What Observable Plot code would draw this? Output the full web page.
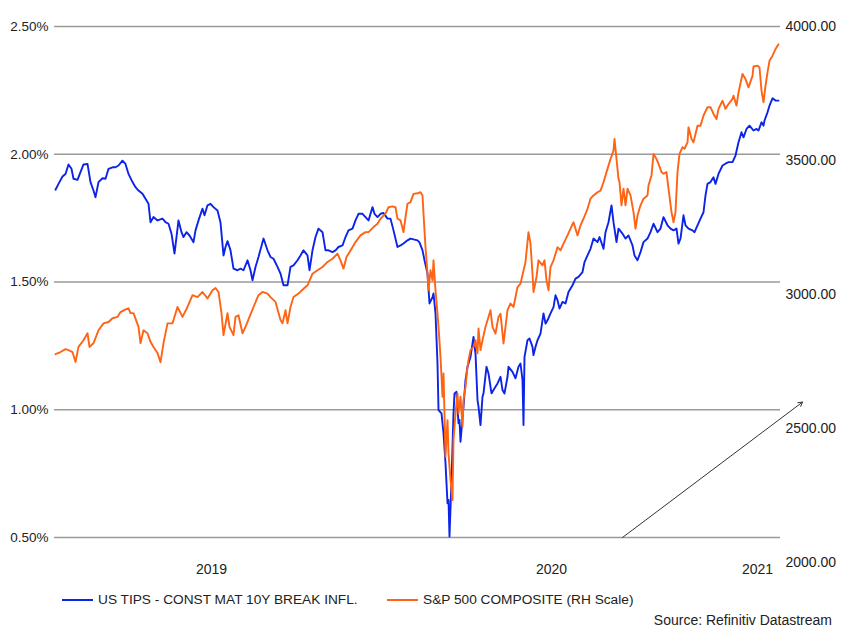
<!DOCTYPE html>
<html>
<head>
<meta charset="utf-8">
<script src="https://cdn.jsdelivr.net/npm/d3@7"></script>
<script src="https://cdn.jsdelivr.net/npm/@observablehq/plot@0.6"></script>
<style>
  body { margin: 0; background: #fff; font-family: "Liberation Sans", Arial, sans-serif; color: #222; }
  #wrap { position: relative; width: 841px; height: 627px; }
  .leg { position: absolute; font-size: 13.7px; line-height: 16px; white-space: nowrap; color: #222; }
  .sw { position: absolute; height: 2px; }
</style>
</head>
<body>
<div id="wrap">
  <div id="chart"></div>
  <div class="sw" style="left:62px;top:599px;width:31px;background:#0b24e8"></div>
  <div class="leg" style="left:98px;top:592px">US TIPS - CONST MAT 10Y BREAK INFL.</div>
  <div class="sw" style="left:387px;top:599px;width:31px;background:#ff6314"></div>
  <div class="leg" style="left:423px;top:592px">S&amp;P 500 COMPOSITE (RH Scale)</div>
  <div class="leg" style="right:9px;top:614px;font-size:14px;line-height:12px">Source: Refinitiv Datastream</div>
</div>
<script>
// ---- data ----
const leftTicks = [0.5, 1.0, 1.5, 2.0, 2.5];          // %
const rightTicks = [2000, 2500, 3000, 3500, 4000];     // S&P 500 points
const yearLabels = ["2019", "2020", "2021"];

const tipsSeries = [
["2019-02-22",1.861],["2019-02-25",1.884],["2019-03-01",1.913],["2019-03-04",1.923],["2019-03-07",1.960],["2019-03-10",1.943],["2019-03-12",1.904],["2019-03-16",1.900],["2019-03-19",1.930],["2019-03-22",1.960],["2019-03-26",1.962],["2019-03-29",1.891],["2019-04-01",1.858],["2019-04-03",1.832],["2019-04-06",1.891],["2019-04-10",1.906],["2019-04-13",1.904],["2019-04-16",1.943],["2019-04-20",1.949],["2019-04-23",1.949],["2019-04-26",1.956],["2019-04-30",1.975],["2019-05-03",1.962],["2019-05-06",1.923],["2019-05-10",1.891],["2019-05-13",1.871],["2019-05-16",1.858],["2019-05-20",1.845],["2019-05-23",1.826],["2019-05-26",1.806],["2019-05-28",1.734],["2019-05-31",1.754],["2019-06-04",1.741],["2019-06-09",1.748],["2019-06-12",1.734],["2019-06-15",1.728],["2019-06-18",1.689],["2019-06-21",1.611],["2019-06-25",1.741],["2019-06-28",1.695],["2019-06-30",1.676],["2019-07-03",1.695],["2019-07-06",1.682],["2019-07-10",1.656],["2019-07-12",1.702],["2019-07-15",1.741],["2019-07-19",1.787],["2019-07-21",1.761],["2019-07-24",1.800],["2019-07-27",1.806],["2019-07-30",1.793],["2019-08-03",1.780],["2019-08-06",1.733],["2019-08-09",1.604],["2019-08-11",1.637],["2019-08-13",1.660],["2019-08-16",1.624],["2019-08-19",1.552],["2019-08-23",1.546],["2019-08-26",1.552],["2019-08-29",1.546],["2019-09-02",1.585],["2019-09-05",1.546],["2019-09-07",1.507],["2019-09-10",1.559],["2019-09-13",1.598],["2019-09-17",1.656],["2019-09-18",1.670],["2019-09-22",1.624],["2019-09-25",1.598],["2019-09-28",1.591],["2019-10-02",1.559],["2019-10-05",1.533],["2019-10-08",1.487],["2019-10-12",1.487],["2019-10-15",1.559],["2019-10-18",1.565],["2019-10-22",1.585],["2019-10-25",1.604],["2019-10-28",1.624],["2019-11-01",1.604],["2019-11-03",1.546],["2019-11-06",1.624],["2019-11-09",1.676],["2019-11-12",1.709],["2019-11-16",1.695],["2019-11-19",1.624],["2019-11-22",1.624],["2019-11-26",1.617],["2019-11-29",1.624],["2019-12-02",1.637],["2019-12-06",1.643],["2019-12-09",1.676],["2019-12-12",1.702],["2019-12-16",1.709],["2019-12-19",1.741],["2019-12-22",1.767],["2019-12-26",1.767],["2019-12-29",1.754],["2020-01-01",1.741],["2020-01-05",1.793],["2020-01-07",1.767],["2020-01-10",1.754],["2020-01-13",1.767],["2020-01-16",1.770],["2020-01-20",1.748],["2020-01-23",1.748],["2020-01-26",1.702],["2020-01-30",1.637],["2020-02-02",1.643],["2020-02-05",1.651],["2020-02-09",1.663],["2020-02-12",1.670],["2020-02-15",1.667],["2020-02-19",1.663],["2020-02-21",1.655],["2020-02-24",1.624],["2020-02-26",1.585],["2020-02-29",1.533],["2020-03-02",1.416],["2020-03-05",1.441],["2020-03-06",1.455],["2020-03-08",1.377],["2020-03-10",1.181],["2020-03-11",0.999],["2020-03-14",0.986],["2020-03-16",0.908],["2020-03-18",0.791],["2020-03-20",0.634],["2020-03-21",0.647],["2020-03-22",0.504],["2020-03-24",0.725],["2020-03-26",0.986],["2020-03-27",1.064],["2020-03-29",1.070],["2020-03-31",0.947],["2020-04-01",0.960],["2020-04-02",0.875],["2020-04-05",1.012],["2020-04-07",1.116],["2020-04-09",1.168],["2020-04-12",1.207],["2020-04-15",1.285],["2020-04-17",1.220],["2020-04-19",1.038],["2020-04-20",1.012],["2020-04-22",0.940],["2020-04-24",1.051],["2020-04-25",1.064],["2020-04-28",1.168],["2020-04-30",1.142],["2020-05-03",1.064],["2020-05-05",1.077],["2020-05-09",1.103],["2020-05-12",1.129],["2020-05-14",1.077],["2020-05-16",1.064],["2020-05-19",1.129],["2020-05-20",1.168],["2020-05-24",1.148],["2020-05-27",1.123],["2020-05-30",1.168],["2020-06-01",1.181],["2020-06-03",1.116],["2020-06-04",0.940],["2020-06-05",1.207],["2020-06-08",1.272],["2020-06-10",1.279],["2020-06-13",1.246],["2020-06-14",1.214],["2020-06-16",1.246],["2020-06-18",1.272],["2020-06-21",1.298],["2020-06-24",1.377],["2020-06-26",1.337],["2020-06-28",1.350],["2020-07-01",1.377],["2020-07-04",1.402],["2020-07-06",1.448],["2020-07-08",1.429],["2020-07-10",1.396],["2020-07-13",1.422],["2020-07-16",1.416],["2020-07-19",1.461],["2020-07-23",1.487],["2020-07-26",1.513],["2020-07-29",1.520],["2020-08-02",1.539],["2020-08-04",1.578],["2020-08-07",1.604],["2020-08-10",1.630],["2020-08-13",1.670],["2020-08-17",1.656],["2020-08-19",1.676],["2020-08-23",1.630],["2020-08-25",1.695],["2020-08-28",1.734],["2020-08-31",1.800],["2020-09-02",1.734],["2020-09-05",1.656],["2020-09-07",1.709],["2020-09-11",1.689],["2020-09-14",1.670],["2020-09-17",1.682],["2020-09-21",1.643],["2020-09-23",1.604],["2020-09-26",1.585],["2020-09-29",1.617],["2020-10-02",1.656],["2020-10-06",1.670],["2020-10-09",1.695],["2020-10-12",1.728],["2020-10-16",1.695],["2020-10-19",1.709],["2020-10-22",1.754],["2020-10-26",1.722],["2020-10-29",1.709],["2020-11-01",1.702],["2020-11-04",1.709],["2020-11-06",1.650],["2020-11-08",1.670],["2020-11-11",1.761],["2020-11-13",1.722],["2020-11-16",1.709],["2020-11-20",1.702],["2020-11-22",1.695],["2020-11-25",1.722],["2020-11-28",1.748],["2020-12-01",1.773],["2020-12-03",1.839],["2020-12-05",1.884],["2020-12-08",1.891],["2020-12-11",1.910],["2020-12-13",1.884],["2020-12-16",1.923],["2020-12-20",1.956],["2020-12-23",1.963],["2020-12-26",1.969],["2020-12-30",1.969],["2021-01-02",1.995],["2021-01-05",2.047],["2021-01-08",2.086],["2021-01-10",2.066],["2021-01-13",2.099],["2021-01-16",2.112],["2021-01-20",2.093],["2021-01-23",2.099],["2021-01-25",2.093],["2021-01-28",2.125],["2021-01-30",2.112],["2021-01-31",2.132],["2021-02-03",2.164],["2021-02-05",2.190],["2021-02-08",2.219],["2021-02-11",2.210],["2021-02-14",2.210]
];

const spxSeries = [
["2019-02-22",2778],["2019-02-27",2786],["2019-03-04",2797],["2019-03-07",2793],["2019-03-11",2786],["2019-03-14",2749],["2019-03-17",2805],["2019-03-22",2830],["2019-03-26",2856],["2019-03-28",2805],["2019-04-01",2819],["2019-04-06",2867],["2019-04-11",2893],["2019-04-16",2898],["2019-04-20",2912],["2019-04-25",2917],["2019-04-28",2935],["2019-05-03",2945],["2019-05-06",2949],["2019-05-08",2931],["2019-05-11",2931],["2019-05-16",2880],["2019-05-18",2819],["2019-05-21",2867],["2019-05-25",2856],["2019-05-28",2824],["2019-05-31",2805],["2019-06-04",2782],["2019-06-07",2748],["2019-06-10",2819],["2019-06-14",2893],["2019-06-19",2893],["2019-06-24",2954],["2019-06-29",2917],["2019-07-04",2954],["2019-07-09",2998],["2019-07-14",2991],["2019-07-19",3010],["2019-07-24",2986],["2019-07-29",3016],["2019-08-01",3025],["2019-08-04",3010],["2019-08-07",2931],["2019-08-09",2849],["2019-08-13",2931],["2019-08-15",2880],["2019-08-19",2849],["2019-08-21",2917],["2019-08-24",2923],["2019-08-28",2856],["2019-08-31",2880],["2019-09-04",2917],["2019-09-08",2954],["2019-09-13",2998],["2019-09-17",3010],["2019-09-22",3004],["2019-09-25",2991],["2019-09-30",2973],["2019-10-05",2905],["2019-10-07",2893],["2019-10-10",2942],["2019-10-12",2893],["2019-10-15",2954],["2019-10-18",2991],["2019-10-23",3004],["2019-10-28",3022],["2019-11-01",3035],["2019-11-06",3078],["2019-11-11",3091],["2019-11-16",3103],["2019-11-21",3122],["2019-11-26",3134],["2019-12-01",3153],["2019-12-04",3128],["2019-12-07",3097],["2019-12-10",3140],["2019-12-14",3165],["2019-12-19",3196],["2019-12-24",3221],["2019-12-29",3233],["2020-01-01",3233],["2020-01-06",3252],["2020-01-10",3264],["2020-01-13",3283],["2020-01-18",3302],["2020-01-21",3326],["2020-01-25",3329],["2020-01-28",3326],["2020-01-30",3283],["2020-02-02",3277],["2020-02-05",3233],["2020-02-07",3289],["2020-02-09",3339],["2020-02-12",3345],["2020-02-15",3376],["2020-02-19",3378],["2020-02-22",3382],["2020-02-24",3370],["2020-02-25",3302],["2020-02-27",3177],["2020-02-29",3078],["2020-03-01",3016],["2020-03-03",3091],["2020-03-05",3053],["2020-03-06",3128],["2020-03-08",3016],["2020-03-10",2929],["2020-03-11",2880],["2020-03-13",2768],["2020-03-15",2619],["2020-03-16",2706],["2020-03-18",2396],["2020-03-20",2532],["2020-03-21",2408],["2020-03-23",2309],["2020-03-25",2234],["2020-03-26",2458],["2020-03-28",2557],["2020-03-30",2632],["2020-03-31",2557],["2020-04-02",2619],["2020-04-04",2507],["2020-04-05",2607],["2020-04-07",2656],["2020-04-09",2731],["2020-04-10",2756],["2020-04-12",2793],["2020-04-15",2805],["2020-04-17",2830],["2020-04-19",2781],["2020-04-20",2874],["2020-04-22",2793],["2020-04-24",2830],["2020-04-27",2880],["2020-04-30",2917],["2020-05-02",2942],["2020-05-04",2880],["2020-05-07",2855],["2020-05-10",2917],["2020-05-12",2929],["2020-05-15",2818],["2020-05-19",2942],["2020-05-22",2967],["2020-05-25",2954],["2020-05-29",3028],["2020-06-01",3041],["2020-06-06",3122],["2020-06-09",3233],["2020-06-11",3190],["2020-06-13",3078],["2020-06-14",3010],["2020-06-17",3066],["2020-06-19",3128],["2020-06-23",3109],["2020-06-25",3128],["2020-06-27",3053],["2020-06-29",3016],["2020-07-01",3103],["2020-07-04",3128],["2020-07-08",3177],["2020-07-11",3165],["2020-07-14",3190],["2020-07-18",3221],["2020-07-21",3246],["2020-07-24",3270],["2020-07-28",3221],["2020-07-31",3258],["2020-08-03",3283],["2020-08-07",3320],["2020-08-10",3358],["2020-08-13",3370],["2020-08-17",3382],["2020-08-20",3388],["2020-08-23",3419],["2020-08-27",3469],["2020-08-30",3506],["2020-09-02",3537],["2020-09-03",3581],["2020-09-05",3506],["2020-09-07",3432],["2020-09-08",3419],["2020-09-10",3333],["2020-09-12",3395],["2020-09-14",3333],["2020-09-16",3395],["2020-09-19",3370],["2020-09-22",3308],["2020-09-24",3246],["2020-09-26",3295],["2020-09-29",3333],["2020-10-02",3358],["2020-10-06",3370],["2020-10-07",3407],["2020-10-10",3444],["2020-10-12",3525],["2020-10-15",3506],["2020-10-17",3488],["2020-10-20",3457],["2020-10-22",3451],["2020-10-25",3457],["2020-10-27",3395],["2020-10-30",3308],["2020-11-01",3270],["2020-11-03",3308],["2020-11-05",3457],["2020-11-07",3525],["2020-11-10",3550],["2020-11-12",3544],["2020-11-15",3568],["2020-11-16",3624],["2020-11-19",3581],["2020-11-21",3568],["2020-11-25",3630],["2020-11-28",3630],["2020-12-01",3668],["2020-12-05",3699],["2020-12-08",3699],["2020-12-11",3674],["2020-12-14",3655],["2020-12-16",3693],["2020-12-20",3723],["2020-12-23",3693],["2020-12-26",3711],["2020-12-30",3730],["2020-12-31",3742],["2021-01-03",3705],["2021-01-05",3754],["2021-01-09",3823],["2021-01-12",3804],["2021-01-15",3773],["2021-01-19",3816],["2021-01-20",3851],["2021-01-24",3854],["2021-01-26",3847],["2021-01-28",3761],["2021-01-30",3717],["2021-02-01",3779],["2021-02-03",3829],["2021-02-05",3872],["2021-02-08",3891],["2021-02-11",3916],["2021-02-14",3934]
];

// annotation arrow (in data units: date, % scale)
const arrowNote = [{from: "2020-09-11", fromValue: 0.50, to: "2021-03-10", toValue: 1.03}];

// ---- build ----
const BLUE = "#0b24e8", ORANGE = "#ff6314";
const parse = d3.utcParse("%Y-%m-%d");
const tips = tipsSeries.map(([d, v]) => ({date: parse(d), value: v}));
const spx = spxSeries.map(([d, v]) => ({date: parse(d), value: v}));
const xDomain = [parse("2019-02-21"), parse("2021-02-16")];
// right-hand scale: S&P points expressed in left-axis units
const spToY = d3.scaleLinear().domain([2000, 4000]).range([0.401, 2.5]);

const yearMarks = yearLabels.map(y => {
  const s = Math.max(+parse(y + "-01-01"), +xDomain[0]);
  const e = Math.min(+parse((+y + 1) + "-01-01"), +xDomain[1]);
  return {date: new Date((s + e) / 2), label: y};
});
const arrows = arrowNote.map(a => ({x1: parse(a.from), y1: a.fromValue, x2: parse(a.to), y2: a.toValue}));

const chart = Plot.plot({
  width: 841,
  height: 590,
  marginTop: 26,
  marginBottom: 53,
  marginLeft: 54,
  marginRight: 61,
  x: {type: "utc", domain: xDomain, axis: null},
  y: {domain: [0.5, 2.5], axis: null},
  style: {fontFamily: "'Liberation Sans', Arial, sans-serif", fontSize: "14px", color: "#222", background: "#fff", overflow: "visible"},
  marks: [
    Plot.ruleY(leftTicks, {stroke: "#9a9a9a", strokeWidth: 1.3}),
    Plot.text(leftTicks, {y: d => d, text: d => d.toFixed(2) + "%", frameAnchor: "left", textAnchor: "end", dx: -6, fontSize: 13.5}),
    Plot.text(rightTicks, {y: d => spToY(d), text: d => d.toFixed(2), frameAnchor: "right", textAnchor: "start", dx: 5}),
    Plot.text(yearMarks, {x: "date", text: "label", frameAnchor: "bottom", dy: 36}),
    Plot.line(tips, {x: "date", y: "value", stroke: BLUE, strokeWidth: 1.9}),
    Plot.line(spx, {x: "date", y: d => spToY(d.value), stroke: ORANGE, strokeWidth: 1.9}),
    Plot.arrow(arrows, {x1: "x1", y1: "y1", x2: "x2", y2: "y2", stroke: "#333", strokeWidth: 1, headLength: 7})
  ]
});
document.getElementById("chart").appendChild(chart);
</script>
</body>
</html>
